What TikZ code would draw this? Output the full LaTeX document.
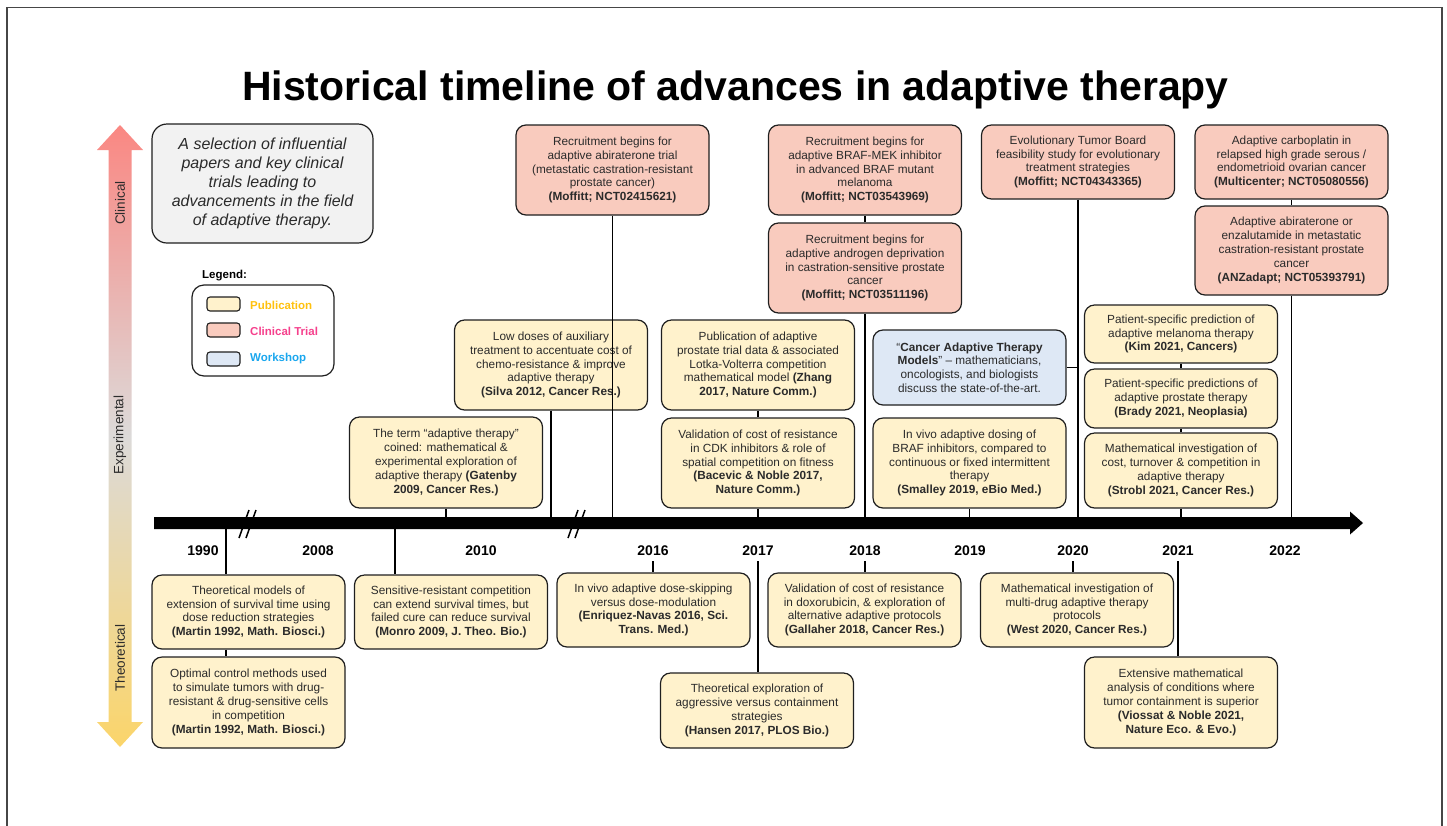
\documentclass[tikz,border=0pt]{standalone}
\usepackage{fontspec}
\setmainfont{Liberation Sans}
\usetikzlibrary{calc, positioning}

\definecolor{pubfill}{HTML}{FFF2CC}
\definecolor{trialfill}{HTML}{F9CBBE}
\definecolor{workfill}{HTML}{DEE8F5}
\definecolor{notefill}{HTML}{F2F2F2}
\definecolor{boxline}{HTML}{1F1F1F}
\definecolor{bodytext}{HTML}{2B2B2B}
\definecolor{pubtext}{HTML}{FFC10E}
\definecolor{trialtext}{HTML}{F5408C}
\definecolor{worktext}{HTML}{1AA7EE}
\definecolor{clinred}{HTML}{FA8782}
\definecolor{expgray}{HTML}{DCDAD9}
\definecolor{theoyellow}{HTML}{FBD56A}

\tikzset{
  evbox/.style={draw=boxline, line width=1.2pt, rounded corners=10pt, align=center,
    minimum width=193pt, inner sep=2pt, text=bodytext, font=\fontsize{11.8}{13.8}\selectfont},
  pub/.style={evbox, fill=pubfill},
  trial/.style={evbox, fill=trialfill},
  work/.style={evbox, fill=workfill},
  link/.style={line width=1.3pt, black},
  year/.style={font=\fontsize{14}{16}\selectfont\bfseries, inner sep=5pt},
  swatch/.style={draw=boxline, line width=1.1pt, rounded corners=3pt, minimum width=33pt,
    minimum height=14pt, inner sep=0pt},
  legtext/.style={font=\fontsize{11.5}{13}\selectfont\bfseries, anchor=west, inner sep=0pt},
  axlabel/.style={rotate=90, font=\fontsize{13.5}{16}\selectfont, text=bodytext}
}

\begin{document}
\begin{tikzpicture}[x=1pt, y=-1pt]
\useasboundingbox (0,0) rectangle (1447,825);

% Frame and title
\draw[gray!55!black, line width=1.2pt] (7,830) -- (7,7.5) -- (1442,7.5) -- (1442,830);
\node[font=\fontsize{41}{48}\selectfont\bfseries, anchor=base] (title) at (735.5,100) {Historical timeline of advances in adaptive therapy};

% Vertical scale arrow
\shade[top color=clinred, bottom color=theoyellow, middle color=expgray]
  (120,125) -- (143,150) -- (131.5,150) -- (131.5,722) -- (143,722) -- (120,747)
  -- (97,722) -- (108.5,722) -- (108.5,150) -- (97,150) -- cycle;
\node[axlabel] (clin) at (120,203) {Clinical};
\node[axlabel] (expm) at (120,435) {Experimental};
\node[axlabel] (theo) at (120,658) {Theoretical};

% Note and legend
\node[draw=boxline, line width=1.2pt, fill=notefill, rounded corners=15pt, minimum width=221pt,
  minimum height=119pt, align=center, font=\fontsize{16}{19}\selectfont\itshape, text=bodytext]
  (note) at (262.5,183.5) {A selection of influential\\papers and key clinical\\trials leading to\\advancements in the field\\of adaptive therapy.};
\node[legtext] (legtitle) at (202,276) {Legend:};
\node[draw=boxline, line width=1.2pt, rounded corners=12pt, minimum width=142pt, minimum height=91pt] (legbox) at (263,330.5) {};
\node[swatch, fill=pubfill] (swpub) at (223.5,304) {};
\node[swatch, fill=trialfill] (swtrial) at (223.5,330) {};
\node[swatch, fill=workfill] (swwork) at (223.5,359) {};
\node[legtext, text=pubtext] (lgpub) at (250,305) {Publication};
\node[legtext, text=trialtext] (lgtrial) at (250,331) {Clinical Trial};
\node[legtext, text=worktext] (lgwork) at (250,359) {Workshop};

% Timeline
\fill (154,517) -- (1350,517) -- (1350,511.5) -- (1363,523) -- (1350,534.5) -- (1350,529) -- (154,529) -- cycle;
\coordinate (axis) at (0,517);
\draw[line width=1.5pt] (239,538) -- (249,510) (246,538) -- (256,510);
\draw[line width=1.5pt] (568,538) -- (578,510) (575,538) -- (585,510);
\foreach \yr/\xx in {1990/203, 2008/318, 2010/481, 2016/653, 2017/758, 2018/865, 2019/970, 2020/1073, 2021/1178, 2022/1285}
  \node[year] (y\yr) at (\xx,551) {\yr};

% Above the timeline
\node[pub, minimum height=91pt] (gatenby) at (446,462.5) {The term “adaptive therapy”\\coined: mathematical \&\\experimental exploration of\\adaptive therapy \textbf{(Gatenby}\\\textbf{2009, Cancer Res.)}};
\node[pub, minimum height=90pt] (silva) at (551,365) {Low doses of auxiliary\\treatment to accentuate cost of\\chemo-resistance \& improve\\adaptive therapy\\\textbf{(Silva 2012, Cancer Res.)}};
\node[trial, minimum height=90pt] (abira) at (612.5,170) {Recruitment begins for\\adaptive abiraterone trial\\(metastatic castration-resistant\\prostate cancer)\\\textbf{(Moffitt; NCT02415621)}};
\node[pub, minimum height=90pt] (zhang) at (758,365) {Publication of adaptive\\prostate trial data \& associated\\Lotka-Volterra competition\\mathematical model \textbf{(Zhang}\\\textbf{2017, Nature Comm.)}};
\node[pub, minimum height=90pt] (bacevic) at (758,463) {Validation of cost of resistance\\in CDK inhibitors \& role of\\spatial competition on fitness\\\textbf{(Bacevic \& Noble 2017,}\\\textbf{Nature Comm.)}};
\node[trial, minimum height=90pt] (brafmek) at (865,170) {Recruitment begins for\\adaptive BRAF-MEK inhibitor\\in advanced BRAF mutant\\melanoma\\\textbf{(Moffitt; NCT03543969)}};
\node[trial, minimum height=90pt] (androgen) at (865,268) {Recruitment begins for\\adaptive androgen deprivation\\in castration-sensitive prostate\\cancer\\\textbf{(Moffitt; NCT03511196)}};
\node[work, minimum height=75pt] (catm) at (969.5,367.5) {“\textbf{Cancer Adaptive Therapy}\\\textbf{Models}” – mathematicians,\\oncologists, and biologists\\discuss the state-of-the-art.};
\node[pub, minimum height=90pt] (smalley) at (969.5,463) {In vivo adaptive dosing of\\BRAF inhibitors, compared to\\continuous or fixed intermittent\\therapy\\\textbf{(Smalley 2019, eBio Med.)}};
\node[trial, minimum height=74pt] (etb) at (1078,162) {Evolutionary Tumor Board\\feasibility study for evolutionary\\treatment strategies\\\textbf{(Moffitt; NCT04343365)}};
\node[trial, minimum height=74pt] (carbo) at (1291.5,162) {Adaptive carboplatin in\\relapsed high grade serous /\\endometrioid ovarian cancer\\\textbf{(Multicenter; NCT05080556)}};
\node[trial, minimum height=89pt] (anzadapt) at (1291.5,250.5) {Adaptive abiraterone or\\enzalutamide in metastatic\\castration-resistant prostate\\cancer\\\textbf{(ANZadapt; NCT05393791)}};
\node[pub, minimum height=58pt] (kim) at (1181,334) {Patient-specific prediction of\\adaptive melanoma therapy\\\textbf{(Kim 2021, Cancers)}};
\node[pub, minimum height=59pt] (brady) at (1181,398.5) {Patient-specific predictions of\\adaptive prostate therapy\\\textbf{(Brady 2021, Neoplasia)}};
\node[pub, minimum height=75pt] (strobl) at (1181,470.5) {Mathematical investigation of\\cost, turnover \& competition in\\adaptive therapy\\\textbf{(Strobl 2021, Cancer Res.)}};

\draw[link] (gatenby.south) -- (gatenby.south |- axis);
\draw[link] (silva.south) -- (silva.south |- axis);
\draw[link] (abira.south) -- (abira.south |- axis);
\draw[link] (zhang.south) -- (bacevic.north);
\draw[link] (bacevic.south) -- (bacevic.south |- axis);
\draw[link] (brafmek.south) -- (androgen.north);
\draw[link] (androgen.south) -- (androgen.south |- axis);
\draw[link] (catm.east) -- (catm.east -| etb.south);
\draw[link] (smalley.south) -- (smalley.south |- axis);
\draw[link] (etb.south) -- (etb.south |- axis);
\draw[link] (carbo.south) -- (anzadapt.north);
\draw[link] (anzadapt.south) -- (anzadapt.south |- axis);
\draw[link] (kim.south) -- (brady.north);
\draw[link] (brady.south) -- (strobl.north);
\draw[link] (strobl.south) -- (strobl.south |- axis);

% Below the timeline
\node[pub, minimum height=74pt] (martinA) at (248.5,612) {Theoretical models of\\extension of survival time using\\dose reduction strategies\\\textbf{(Martin 1992, Math. Biosci.)}};
\node[pub, minimum height=91pt] (martinB) at (248.5,702.5) {Optimal control methods used\\to simulate tumors with drug-\\resistant \& drug-sensitive cells\\in competition\\\textbf{(Martin 1992, Math. Biosci.)}};
\node[pub, minimum height=74pt] (monro) at (451,612) {Sensitive-resistant competition\\can extend survival times, but\\failed cure can reduce survival\\\textbf{(Monro 2009, J. Theo. Bio.)}};
\node[pub, minimum height=74pt] (enriquez) at (653.5,610) {In vivo adaptive dose-skipping\\versus dose-modulation\\\textbf{(Enriquez-Navas 2016, Sci.}\\\textbf{Trans. Med.)}};
\node[pub, minimum height=75pt] (hansen) at (757,710.5) {Theoretical exploration of\\aggressive versus containment\\strategies\\\textbf{(Hansen 2017, PLOS Bio.)}};
\node[pub, minimum height=74pt] (gallaher) at (864.5,610) {Validation of cost of resistance\\in doxorubicin, \& exploration of\\alternative adaptive protocols\\\textbf{(Gallaher 2018, Cancer Res.)}};
\node[pub, minimum height=74pt] (west) at (1077,610) {Mathematical investigation of\\multi-drug adaptive therapy\\protocols\\\textbf{(West 2020, Cancer Res.)}};
\node[pub, minimum height=91pt] (viossat) at (1181,702.5) {Extensive mathematical\\analysis of conditions where\\tumor containment is superior\\\textbf{(Viossat \& Noble 2021,}\\\textbf{Nature Eco. \& Evo.)}};

\coordinate (t1990) at (226,529);
\coordinate (t2009) at (395,529);
\draw[link] (t1990) -- (t1990 |- martinA.north);
\draw[link] (martinA.south -| t1990) -- (martinB.north -| t1990);
\draw[link] (t2009) -- (t2009 |- monro.north);
\draw[link] (y2016.south) -- (y2016.south |- enriquez.north);
\draw[link] (y2017.south) -- (y2017.south |- hansen.north);
\draw[link] (y2018.south) -- (y2018.south |- gallaher.north);
\draw[link] (y2020.south) -- (y2020.south |- west.north);
\draw[link] (y2021.south) -- (y2021.south |- viossat.north);
\end{tikzpicture}
\end{document}
